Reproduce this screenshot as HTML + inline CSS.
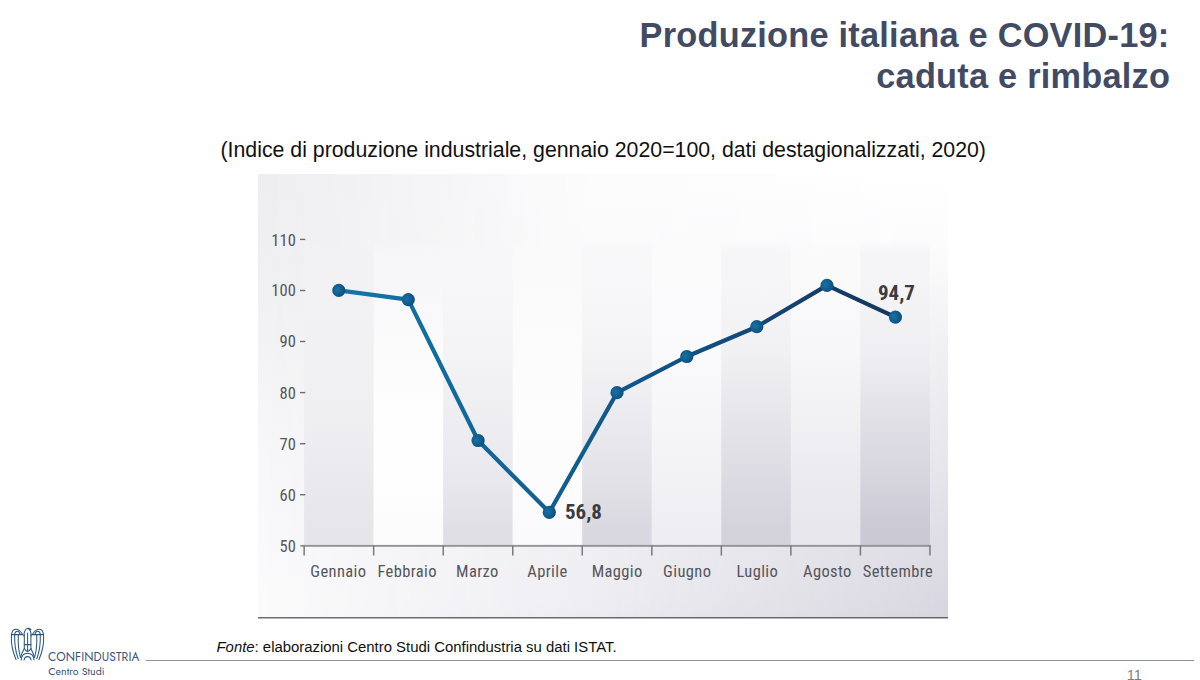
<!DOCTYPE html>
<html lang="it">
<head>
<meta charset="utf-8">
<title>Produzione italiana e COVID-19: caduta e rimbalzo</title>
<style>
html,body{margin:0;padding:0;width:1200px;height:680px;overflow:hidden;background:#ffffff;}
body{position:relative;}
.t{position:absolute;white-space:nowrap;margin:0;}
.ttl{right:30px;text-align:right;font:bold 34.3px/40px "Liberation Sans",Arial,sans-serif;letter-spacing:0.25px;color:#424b63;}
#t1{top:14.5px;right:30.5px;}
#t2{top:55.8px;right:29.8px;}
#sub{left:220.5px;top:138px;font:21.3px/24px "Liberation Sans",Arial,sans-serif;color:#111;}
#fonte{left:216.5px;top:637.5px;font:14.9px/18px "Liberation Sans",Arial,sans-serif;color:#111;}
#rule{position:absolute;left:146px;top:659.5px;width:1048px;height:1.4px;background:#8a979c;}
#pg{left:1126.8px;top:667px;font:14.6px/16px "Liberation Sans",sans-serif;color:#7e7e7e;}
svg{position:absolute;left:0;top:0;}
.lbl{font-family:"Roboto Condensed","Liberation Sans Narrow","Liberation Sans",sans-serif;font-size:16.5px;letter-spacing:0.38px;fill:#55555a;}
.val{font-family:"Roboto Condensed","Liberation Sans Narrow","Liberation Sans",sans-serif;font-size:21px;font-weight:bold;fill:#3c3c40;}
</style>
</head>
<body>
<svg width="1200" height="680" viewBox="0 0 1200 680">
  <defs>
    <linearGradient id="c0" x1="0" y1="0" x2="0" y2="1"><stop offset="0" stop-color="#f2f2f5" stop-opacity="0"/><stop offset="0.046" stop-color="#f2f2f5"/><stop offset="0.131" stop-color="#f2f2f5"/><stop offset="0.360" stop-color="#f1f1f4"/><stop offset="0.589" stop-color="#efeff2"/><stop offset="0.785" stop-color="#eae9ee"/><stop offset="0.948" stop-color="#e6e5ea"/><stop offset="1" stop-color="#e6e5ea"/></linearGradient>
    <linearGradient id="c1" x1="0" y1="0" x2="0" y2="1"><stop offset="0" stop-color="#f7f7f9" stop-opacity="0"/><stop offset="0.046" stop-color="#f7f7f9"/><stop offset="0.131" stop-color="#f7f7f9"/><stop offset="0.360" stop-color="#fbfbfc"/><stop offset="0.589" stop-color="#fefefe"/><stop offset="0.785" stop-color="#fefefe"/><stop offset="0.948" stop-color="#fcfcfd"/><stop offset="1" stop-color="#fcfcfd"/></linearGradient>
    <linearGradient id="c2" x1="0" y1="0" x2="0" y2="1"><stop offset="0" stop-color="#f7f7f9" stop-opacity="0"/><stop offset="0.046" stop-color="#f7f7f9"/><stop offset="0.131" stop-color="#f7f7f9"/><stop offset="0.360" stop-color="#f4f4f6"/><stop offset="0.589" stop-color="#eeedf1"/><stop offset="0.785" stop-color="#e9e8ed"/><stop offset="0.948" stop-color="#e0dfe6"/><stop offset="1" stop-color="#e0dfe6"/></linearGradient>
    <linearGradient id="c3" x1="0" y1="0" x2="0" y2="1"><stop offset="0" stop-color="#fafafb" stop-opacity="0"/><stop offset="0.046" stop-color="#fafafb"/><stop offset="0.131" stop-color="#fafafb"/><stop offset="0.360" stop-color="#fcfcfd"/><stop offset="0.589" stop-color="#fdfdfd"/><stop offset="0.785" stop-color="#fcfcfd"/><stop offset="0.948" stop-color="#fafafc"/><stop offset="1" stop-color="#fafafc"/></linearGradient>
    <linearGradient id="c4" x1="0" y1="0" x2="0" y2="1"><stop offset="0" stop-color="#f8f8fa" stop-opacity="0"/><stop offset="0.046" stop-color="#f8f8fa"/><stop offset="0.131" stop-color="#f8f8fa"/><stop offset="0.360" stop-color="#f4f4f6"/><stop offset="0.589" stop-color="#ebeaef"/><stop offset="0.785" stop-color="#e3e2e8"/><stop offset="0.948" stop-color="#d9d8e0"/><stop offset="1" stop-color="#d9d8e0"/></linearGradient>
    <linearGradient id="c5" x1="0" y1="0" x2="0" y2="1"><stop offset="0" stop-color="#fbfbfc" stop-opacity="0"/><stop offset="0.046" stop-color="#fbfbfc"/><stop offset="0.131" stop-color="#fbfbfc"/><stop offset="0.360" stop-color="#fafafc"/><stop offset="0.589" stop-color="#f6f6f8"/><stop offset="0.785" stop-color="#f2f2f5"/><stop offset="0.948" stop-color="#eeedf2"/><stop offset="1" stop-color="#eeedf2"/></linearGradient>
    <linearGradient id="c6" x1="0" y1="0" x2="0" y2="1"><stop offset="0" stop-color="#f6f6f8" stop-opacity="0"/><stop offset="0.046" stop-color="#f6f6f8"/><stop offset="0.131" stop-color="#f6f6f8"/><stop offset="0.360" stop-color="#f1f1f4"/><stop offset="0.589" stop-color="#e6e5ea"/><stop offset="0.785" stop-color="#dcdbe3"/><stop offset="0.948" stop-color="#d4d3dc"/><stop offset="1" stop-color="#d4d3dc"/></linearGradient>
    <linearGradient id="c7" x1="0" y1="0" x2="0" y2="1"><stop offset="0" stop-color="#fafafb" stop-opacity="0"/><stop offset="0.046" stop-color="#fafafb"/><stop offset="0.131" stop-color="#fafafb"/><stop offset="0.360" stop-color="#f7f7f9"/><stop offset="0.589" stop-color="#f1f1f4"/><stop offset="0.785" stop-color="#ebeaef"/><stop offset="0.948" stop-color="#e8e7ed"/><stop offset="1" stop-color="#e8e7ed"/></linearGradient>
    <linearGradient id="c8" x1="0" y1="0" x2="0" y2="1"><stop offset="0" stop-color="#f5f5f7" stop-opacity="0"/><stop offset="0.046" stop-color="#f5f5f7"/><stop offset="0.131" stop-color="#f5f5f7"/><stop offset="0.360" stop-color="#efeff3"/><stop offset="0.589" stop-color="#e1e0e7"/><stop offset="0.785" stop-color="#d6d5de"/><stop offset="0.948" stop-color="#cac9d4"/><stop offset="1" stop-color="#cac9d4"/></linearGradient>
    <linearGradient id="bgL" x1="0" y1="0" x2="0" y2="1"><stop offset="0.002" stop-color="#eeeef1"/><stop offset="0.227" stop-color="#f0f0f3"/><stop offset="0.396" stop-color="#f3f3f5"/><stop offset="0.554" stop-color="#f6f6f8"/><stop offset="0.689" stop-color="#f8f8fa"/><stop offset="0.802" stop-color="#f9f9fb"/><stop offset="0.959" stop-color="#fbfbfc"/><stop offset="1.000" stop-color="#fbfbfc"/></linearGradient>
    <linearGradient id="bgM" x1="0" y1="0" x2="0" y2="1"><stop offset="0.002" stop-color="#fcfcfd"/><stop offset="0.149" stop-color="#fbfbfc"/><stop offset="0.227" stop-color="#f9f9fa"/><stop offset="0.396" stop-color="#f4f4f6"/><stop offset="0.554" stop-color="#f2f2f5"/><stop offset="0.689" stop-color="#f0f0f3"/><stop offset="0.802" stop-color="#efeff2"/><stop offset="0.959" stop-color="#eeedf2"/><stop offset="1.000" stop-color="#ecebf0"/></linearGradient>
    <linearGradient id="bgR" x1="0" y1="0" x2="0" y2="1"><stop offset="0.002" stop-color="#ffffff"/><stop offset="0.149" stop-color="#fcfcfd"/><stop offset="0.227" stop-color="#f9f9fa"/><stop offset="0.396" stop-color="#f0f0f3"/><stop offset="0.554" stop-color="#eaeaee"/><stop offset="0.689" stop-color="#e5e4ea"/><stop offset="0.802" stop-color="#dfdee6"/><stop offset="0.959" stop-color="#d9d8e1"/><stop offset="1.000" stop-color="#d7d6df"/></linearGradient>
    <linearGradient id="mgM" gradientUnits="userSpaceOnUse" x1="258" y1="0" x2="948" y2="0">
      <stop offset="0" stop-color="#000"/><stop offset="0.5" stop-color="#fff"/><stop offset="1" stop-color="#fff"/>
    </linearGradient>
    <linearGradient id="mgR" gradientUnits="userSpaceOnUse" x1="258" y1="0" x2="948" y2="0">
      <stop offset="0" stop-color="#000"/><stop offset="0.5" stop-color="#000"/><stop offset="1" stop-color="#fff"/>
    </linearGradient>
    <mask id="mM" maskUnits="userSpaceOnUse" x="258" y="174" width="690" height="444">
      <rect x="258" y="174" width="690" height="444" fill="url(#mgM)"/>
    </mask>
    <mask id="mR" maskUnits="userSpaceOnUse" x="258" y="174" width="690" height="444">
      <rect x="258" y="174" width="690" height="444" fill="url(#mgR)"/>
    </mask>
    <linearGradient id="gLine" gradientUnits="userSpaceOnUse" x1="339" y1="0" x2="895" y2="0">
      <stop offset="0" stop-color="#1375aa"/>
      <stop offset="0.45" stop-color="#105b8b"/>
      <stop offset="0.7" stop-color="#134a7d"/>
      <stop offset="1" stop-color="#17355a"/>
    </linearGradient>
    <radialGradient id="gDot" cx="0.38" cy="0.45" r="0.62">
      <stop offset="0" stop-color="#1673a4"/>
      <stop offset="1" stop-color="#0c4f7e"/>
    </radialGradient>
  </defs>

  <!-- chart background -->
  <rect x="258" y="174" width="690" height="444" fill="url(#bgL)"/>
  <rect x="258" y="174" width="690" height="444" fill="url(#bgM)" mask="url(#mM)"/>
  <rect x="258" y="174" width="690" height="444" fill="url(#bgR)" mask="url(#mR)"/>

  <!-- columns -->
  <g>
    <rect x="304.10" y="240.0" width="69.54" height="305.8" fill="url(#c0)"/>
    <rect x="373.64" y="240.0" width="69.54" height="305.8" fill="url(#c1)"/>
    <rect x="443.18" y="240.0" width="69.54" height="305.8" fill="url(#c2)"/>
    <rect x="512.72" y="240.0" width="69.54" height="305.8" fill="url(#c3)"/>
    <rect x="582.26" y="240.0" width="69.54" height="305.8" fill="url(#c4)"/>
    <rect x="651.80" y="240.0" width="69.54" height="305.8" fill="url(#c5)"/>
    <rect x="721.34" y="240.0" width="69.54" height="305.8" fill="url(#c6)"/>
    <rect x="790.88" y="240.0" width="69.54" height="305.8" fill="url(#c7)"/>
    <rect x="860.42" y="240.0" width="69.54" height="305.8" fill="url(#c8)"/>
  </g>

  <!-- bottom border -->
  <rect x="258" y="617.2" width="690" height="1.2" fill="#4a4a4e"/>

  <!-- y axis ticks -->
  <g fill="#6f6f73">
    <rect x="300" y="238.7" width="5.3" height="1.4"/>
    <rect x="300" y="289.8" width="5.3" height="1.4"/>
    <rect x="300" y="340.8" width="5.3" height="1.4"/>
    <rect x="300" y="391.9" width="5.3" height="1.4"/>
    <rect x="300" y="443.0" width="5.3" height="1.4"/>
    <rect x="300" y="494.0" width="5.3" height="1.4"/>
  </g>
  <g class="lbl" text-anchor="end" style="letter-spacing:0.1px">
    <text x="295.9" y="245.5" textLength="24.75" lengthAdjust="spacingAndGlyphs">110</text>
    <text x="295.9" y="296.3" textLength="24.75" lengthAdjust="spacingAndGlyphs">100</text>
    <text x="295.9" y="347.4" textLength="16.50" lengthAdjust="spacingAndGlyphs">90</text>
    <text x="295.9" y="398.5" textLength="16.50" lengthAdjust="spacingAndGlyphs">80</text>
    <text x="295.9" y="449.6" textLength="16.50" lengthAdjust="spacingAndGlyphs">70</text>
    <text x="295.9" y="500.6" textLength="16.50" lengthAdjust="spacingAndGlyphs">60</text>
    <text x="295.9" y="551.7" textLength="16.50" lengthAdjust="spacingAndGlyphs">50</text>
  </g>

  <!-- x axis -->
  <rect x="300.3" y="544.9" width="630.5" height="1.9" fill="#939397"/>
  <g fill="#7a7a7e">
    <rect x="303.4" y="545.5" width="1.5" height="10"/>
    <rect x="372.9" y="545.5" width="1.5" height="10"/>
    <rect x="442.5" y="545.5" width="1.5" height="10"/>
    <rect x="512.0" y="545.5" width="1.5" height="10"/>
    <rect x="581.5" y="545.5" width="1.5" height="10"/>
    <rect x="651.1" y="545.5" width="1.5" height="10"/>
    <rect x="720.6" y="545.5" width="1.5" height="10"/>
    <rect x="790.1" y="545.5" width="1.5" height="10"/>
    <rect x="859.7" y="545.5" width="1.5" height="10"/>
    <rect x="929.2" y="545.5" width="1.5" height="10"/>
  </g>
  <g class="lbl" text-anchor="middle">
    <text x="338.4" y="576.7" textLength="56.11" lengthAdjust="spacingAndGlyphs">Gennaio</text>
    <text x="407.2" y="576.7" textLength="59.50" lengthAdjust="spacingAndGlyphs">Febbraio</text>
    <text x="477.4" y="576.7" textLength="42.70" lengthAdjust="spacingAndGlyphs">Marzo</text>
    <text x="547.4" y="576.7" textLength="40.28" lengthAdjust="spacingAndGlyphs">Aprile</text>
    <text x="617.2" y="576.7" textLength="51.00" lengthAdjust="spacingAndGlyphs">Maggio</text>
    <text x="687.2" y="576.7" textLength="48.20" lengthAdjust="spacingAndGlyphs">Giugno</text>
    <text x="757.3" y="576.7" textLength="41.75" lengthAdjust="spacingAndGlyphs">Luglio</text>
    <text x="827.4" y="576.7" textLength="48.75" lengthAdjust="spacingAndGlyphs">Agosto</text>
    <text x="897.9" y="576.7" textLength="70.39" lengthAdjust="spacingAndGlyphs">Settembre</text>
  </g>

  <!-- data line -->
  <polyline fill="none" stroke="url(#gLine)" stroke-width="4.2" stroke-linejoin="round" stroke-linecap="round"
    points="338.8,290.4 408.3,299.6 478.1,440.5 549.3,512.3 617,392.7 686.8,356.5 756.8,326.7 827,285.4 895.4,317.1"/>
  <g fill="url(#gDot)">
    <circle cx="338.8" cy="290.4" r="6.6"/>
    <circle cx="408.3" cy="299.6" r="6.6"/>
    <circle cx="478.1" cy="440.5" r="6.6"/>
    <circle cx="549.3" cy="512.3" r="6.6"/>
    <circle cx="617" cy="392.7" r="6.6"/>
    <circle cx="686.8" cy="356.5" r="6.6"/>
    <circle cx="756.8" cy="326.7" r="6.6"/>
    <circle cx="827" cy="285.4" r="6.6"/>
    <circle cx="895.4" cy="317.1" r="6.6"/>
  </g>
  <g class="val">
    <text x="565" y="518.5" textLength="36.98" lengthAdjust="spacingAndGlyphs">56,8</text>
    <text x="878" y="299.5" textLength="36.98" lengthAdjust="spacingAndGlyphs">94,7</text>
  </g>

  <!-- logo -->
  <g fill="none" stroke="#2b5787" stroke-width="1.05" stroke-linejoin="round" stroke-linecap="round">
    <path d="M16,659.5 C12.8,652 11,643 11.4,636 C11.7,631.5 13.3,629.3 15.6,629.3 C18.6,629.3 21,631.6 22.6,634.6"/>
    <path d="M18.2,658.8 C15.6,652 14.4,643 14.7,634.6"/>
    <path d="M20.4,657.4 C18.6,651 17.9,643 18.3,634.6"/>
    <path d="M14.6,634.6 C14.9,632.2 16.2,631.2 17.4,631.2 C18.7,631.2 19.8,632.4 20.1,634.6"/>
    <path d="M11.5,634.6 L22.6,634.6"/>
    <path d="M39,659.5 C42.2,652 44,643 43.6,636 C43.3,631.5 41.7,629.3 39.4,629.3 C36.4,629.3 34,631.6 32.4,634.6"/>
    <path d="M36.8,658.8 C39.4,652 40.6,643 40.3,634.6"/>
    <path d="M34.6,657.4 C36.4,651 37.1,643 36.7,634.6"/>
    <path d="M40.4,634.6 C40.1,632.2 38.8,631.2 37.6,631.2 C36.3,631.2 35.2,632.4 34.9,634.6"/>
    <path d="M43.5,634.6 L32.4,634.6"/>
    <path d="M23.8,636 C24.2,631.5 25.8,628.6 27.8,628.3 C29.3,628.1 30.4,628.9 30.9,629.6 M27.8,628.3 C29.9,629.2 31.1,632.5 31.3,636"/>
    <path d="M24.3,634.6 L24.3,648.5 C25.2,650.3 26.4,651.2 27.6,651.6 C28.8,651.2 30,650.3 30.9,648.5 L30.9,634.6"/>
    <path d="M27.6,633 L27.6,651.6"/>
    <path d="M24.3,644.6 L30.9,644.6"/>
    <path d="M20.4,657.4 C21.6,653.5 23.2,650.5 24.3,648.5"/>
    <path d="M34.6,657.4 C33.4,653.5 31.8,650.5 30.9,648.5"/>
    <path d="M21.2,660 C21.6,655.8 24.3,653.3 27.6,653.3 C30.9,653.3 33.6,655.8 34,660"/>
    <path d="M24.1,660 C24.4,658 25.8,656.6 27.6,656.6 C29.4,656.6 30.8,658 31.1,660"/>
  </g>
  <g font-family="Jost,'Liberation Sans',sans-serif" fill="#3a5476">
    <text x="48" y="660.6" font-size="11.9" letter-spacing="0.12" textLength="91.39" lengthAdjust="spacingAndGlyphs">CONFINDUSTRIA</text>
    <text x="48.3" y="675.2" font-size="10.65" textLength="56.22" lengthAdjust="spacingAndGlyphs">Centro Studi</text>
  </g>
</svg>

<div class="t ttl" id="t1">Produzione italiana e COVID-19:</div>
<div class="t ttl" id="t2">caduta e rimbalzo</div>
<div class="t" id="sub">(Indice di produzione industriale, gennaio 2020=100, dati destagionalizzati, 2020)</div>
<div class="t" id="fonte"><i>Fonte</i>: elaborazioni Centro Studi Confindustria su dati ISTAT.</div>
<div id="rule"></div>
<div class="t" id="pg">11</div>
</body>
</html>
